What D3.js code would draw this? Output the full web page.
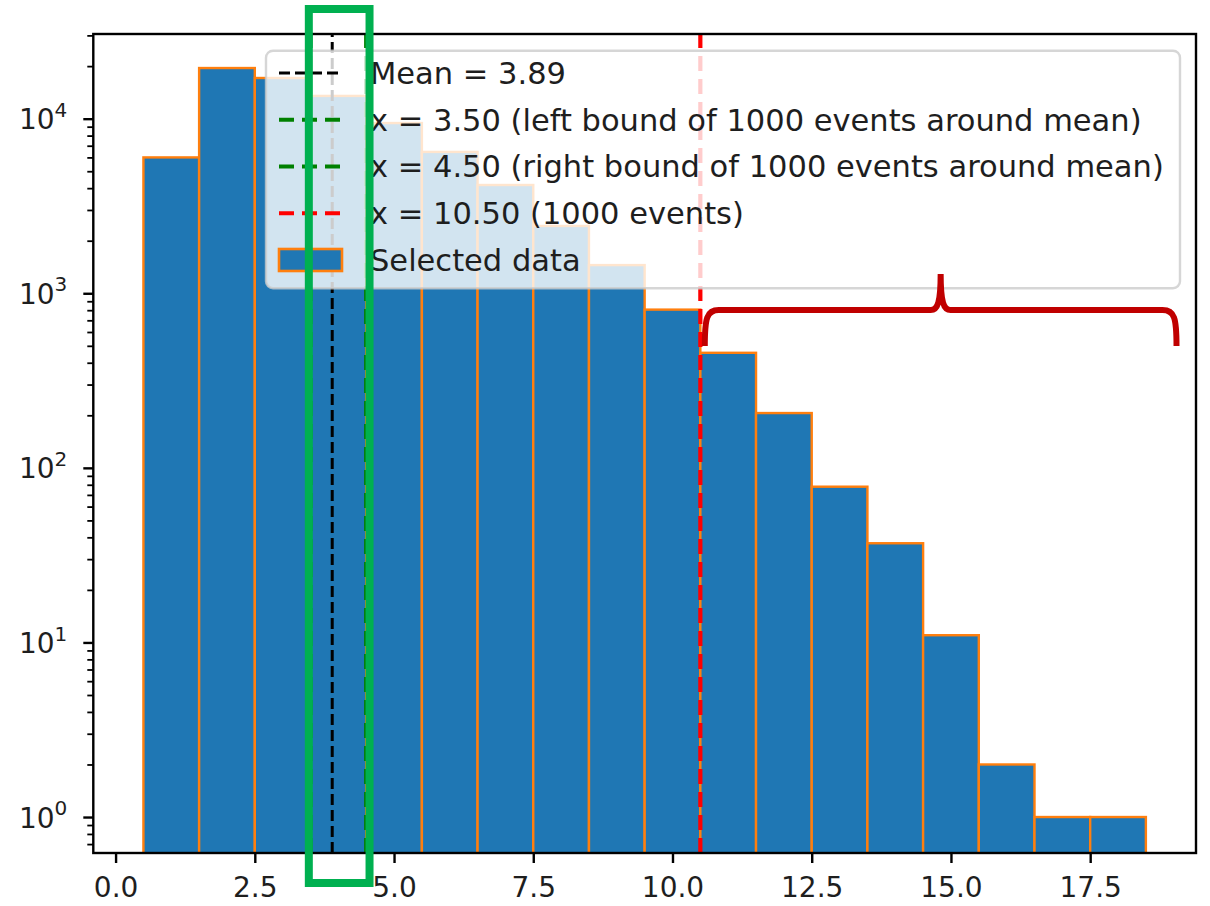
<!DOCTYPE html>
<html>
<head>
<meta charset="utf-8">
<script src="https://cdn.jsdelivr.net/npm/d3@7"></script>
<style>
  html, body { margin: 0; padding: 0; background: #ffffff; }
  svg { display: block; font-family: "DejaVu Sans", sans-serif; }
</style>
</head>
<body>
<svg id="chart" width="1210" height="906"></svg>
<script>
// ---------------- data ----------------
const binCenters = [1, 2, 3, 4, 5, 6, 7, 8, 9, 10, 11, 12, 13, 14, 15, 16, 17, 18];
const binCounts  = [6000, 19500, 17100, 13500, 9440, 6450, 4170, 2430, 1450, 806, 456, 206, 78, 37, 11, 2, 1, 1];
const binWidth = 1;
const xTickValues = [0, 2.5, 5, 7.5, 10, 12.5, 15, 17.5];
const yTickValues = [1, 10, 100, 1000, 10000];
const meanValue = 3.89;
const leftBound = 3.5;
const rightBound = 4.5;
const thresholdValue = 10.5;
const legendLabels = [
  "Mean = 3.89",
  "x = 3.50 (left bound of 1000 events around mean)",
  "x = 4.50 (right bound of 1000 events around mean)",
  "x = 10.50 (1000 events)",
  "Selected data"
];
// annotation (highlight box and brace) in data units
const highlightX = [3.47, 4.56];
const braceX = [10.58, 19.05];
const braceY = { ends: 499, bar: 801, tip: 1290 };

// ---------------- layout ----------------
const svg = d3.select("#chart");
const plot = { left: 93.3, right: 1196, top: 34, bottom: 853 };

const x = d3.scaleLinear().domain([-0.4, 19.4]).range([plot.left, plot.right]);
const y = d3.scaleLog().domain([Math.pow(10, -0.206), Math.pow(10, 4.485)]).range([plot.bottom, plot.top]);

const C = {
  bar: "#1f77b4", edge: "#ff7f0e", green: "#008000", red: "#ff0000",
  box: "#00b050", brace: "#c00000", text: "#1e1e1e"
};

svg.append("rect").attr("width", 1210).attr("height", 906).attr("fill", "#fff");

svg.append("clipPath").attr("id", "clip")
  .append("rect")
  .attr("x", plot.left).attr("y", plot.top)
  .attr("width", plot.right - plot.left).attr("height", plot.bottom - plot.top);

const g = svg.append("g").attr("clip-path", "url(#clip)");

// bars
g.selectAll("rect.bar").data(binCenters).join("rect")
  .attr("class", "bar")
  .attr("x", (d) => x(d - binWidth / 2))
  .attr("width", (d) => x(d + binWidth / 2) - x(d - binWidth / 2))
  .attr("y", (d, i) => y(binCounts[i]))
  .attr("height", (d, i) => plot.bottom + 10 - y(binCounts[i]))
  .attr("fill", C.bar)
  .attr("stroke", C.edge)
  .attr("stroke-width", 2.4);

// vertical reference lines
const vlines = [
  { v: meanValue, color: "#000000", w: 3, dash: "11,5" },
  { v: leftBound, color: C.green, w: 4.2, dash: "15,8" },
  { v: rightBound, color: C.green, w: 4.2, dash: "15,8" },
  { v: thresholdValue, color: C.red, w: 4.2, dash: "15,8" }
];
g.selectAll("line.vline").data(vlines).join("line")
  .attr("class", "vline")
  .attr("x1", (d) => x(d.v)).attr("x2", (d) => x(d.v))
  .attr("y1", plot.bottom).attr("y2", plot.top)
  .attr("stroke", (d) => d.color)
  .attr("stroke-width", (d) => d.w)
  .attr("stroke-dasharray", (d) => d.dash);

// axes
const xAxis = d3.axisBottom(x).tickValues(xTickValues).tickFormat(d3.format(".1f"))
  .tickSize(10).tickPadding(8);
const gx = svg.append("g").attr("transform", `translate(0,${plot.bottom})`).call(xAxis);
gx.select(".domain").remove();
gx.selectAll(".tick line").attr("stroke", "#000").attr("stroke-width", 2.4);
gx.selectAll(".tick text").attr("fill", C.text).attr("font-size", 28)
  .attr("font-family", "DejaVu Sans").attr("dy", "0.92em");

const minorTicks = [];
for (let e = -1; e <= 4; e++) for (let m = 2; m <= 9; m++) {
  const v = m * Math.pow(10, e);
  if (v >= y.domain()[0] && v <= y.domain()[1]) minorTicks.push(v);
}
const yMinor = d3.axisLeft(y).tickValues(minorTicks).tickFormat("").tickSize(6);
const gym = svg.append("g").attr("transform", `translate(${plot.left},0)`).call(yMinor);
gym.select(".domain").remove();
gym.selectAll(".tick line").attr("stroke", "#000").attr("stroke-width", 1.8);

const yAxis = d3.axisLeft(y).tickValues(yTickValues).tickSize(10).tickPadding(12)
  .tickFormat((d) => String(Math.round(Math.log10(d))));
const gy = svg.append("g").attr("transform", `translate(${plot.left},0)`).call(yAxis);
gy.select(".domain").remove();
gy.selectAll(".tick line").attr("stroke", "#000").attr("stroke-width", 2.4);
gy.selectAll(".tick text").each(function () {
  const t = d3.select(this);
  const ex = t.text();
  t.text(null).attr("fill", C.text).attr("font-family", "DejaVu Sans")
    .attr("font-size", 28).attr("dy", "0.36em");
  t.append("tspan").text("10");
  t.append("tspan").text(ex).attr("font-size", 20).attr("dy", "-0.62em");
});
gy.selectAll(".tick text").attr("x", -26);

// spines
svg.append("rect")
  .attr("x", plot.left).attr("y", plot.top)
  .attr("width", plot.right - plot.left).attr("height", plot.bottom - plot.top)
  .attr("fill", "none").attr("stroke", "#000").attr("stroke-width", 2.4);

// legend
const leg = { x: 266, y: 50.7, w: 914, h: 237.5, row0: 73, rowH: 46.75, hx0: 279, hx1: 342, tx: 370 };
svg.append("rect")
  .attr("x", leg.x).attr("y", leg.y).attr("width", leg.w).attr("height", leg.h)
  .attr("rx", 7).attr("ry", 7)
  .attr("fill", "#ffffff").attr("fill-opacity", 0.8)
  .attr("stroke", "#cccccc").attr("stroke-opacity", 0.8).attr("stroke-width", 2.4);

const handles = vlines.concat([{ patch: true }]);
const lg = svg.append("g");
handles.forEach((h, i) => {
  const cy = leg.row0 + i * leg.rowH;
  if (h.patch) {
    lg.append("rect").attr("x", leg.hx0).attr("y", cy - 11)
      .attr("width", leg.hx1 - leg.hx0).attr("height", 22)
      .attr("fill", C.bar).attr("stroke", C.edge).attr("stroke-width", 2.6);
  } else {
    lg.append("line").attr("x1", leg.hx0).attr("x2", leg.hx1)
      .attr("y1", cy).attr("y2", cy)
      .attr("stroke", h.color).attr("stroke-width", h.w)
      .attr("stroke-dasharray", h.dash);
  }
  lg.append("text").attr("x", leg.tx).attr("y", cy + 10.8)
    .attr("font-size", 30.5).attr("fill", C.text).text(legendLabels[i]);
});

// annotation: green highlight box
svg.append("rect")
  .attr("x", x(highlightX[0])).attr("y", 9)
  .attr("width", x(highlightX[1]) - x(highlightX[0]))
  .attr("height", 874)
  .attr("fill", "none").attr("stroke", C.box).attr("stroke-width", 8);

// annotation: red curly brace
const bx0 = x(braceX[0]), bx1 = x(braceX[1]), bxm = (bx0 + bx1) / 2;
const yEnd = y(braceY.ends), yBar = y(braceY.bar), yTip = y(braceY.tip);
const r = 14;
const p = d3.path();
p.moveTo(bx0, yEnd);
p.bezierCurveTo(bx0, yBar + 8, bx0 + 2, yBar, bx0 + r, yBar);
p.lineTo(bxm - 10, yBar);
p.bezierCurveTo(bxm - 3, yBar, bxm, yBar - 8, bxm, yTip);
p.moveTo(bxm, yTip);
p.bezierCurveTo(bxm, yBar - 8, bxm + 3, yBar, bxm + 10, yBar);
p.lineTo(bx1 - r, yBar);
p.bezierCurveTo(bx1 - 2, yBar, bx1, yBar + 8, bx1, yEnd);
svg.append("path").attr("d", p.toString())
  .attr("fill", "none").attr("stroke", C.brace).attr("stroke-width", 6)
  .attr("stroke-linejoin", "round");
</script>
</body>
</html>
